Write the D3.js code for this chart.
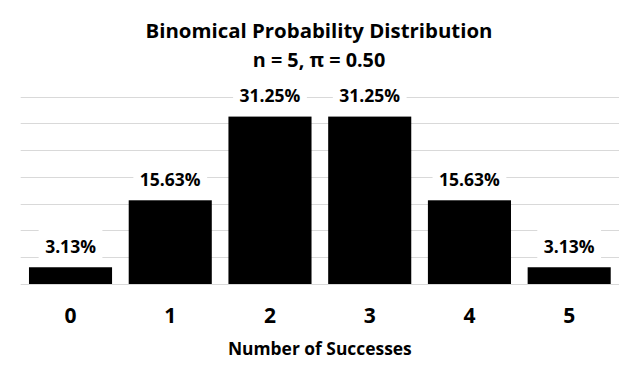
<!DOCTYPE html>
<html><head><meta charset="utf-8">
<script src="https://cdn.jsdelivr.net/npm/d3@7"></script>
<style>
html,body{margin:0;padding:0;background:#fff;}
svg{display:block;font-family:"Open Sans",Lato,sans-serif;font-weight:bold;}
</style></head>
<body>
<svg id="chart" width="639" height="383"></svg>
<script>
const categories = ["0","1","2","3","4","5"];
const probabilities = [0.03125, 0.15625, 0.3125, 0.3125, 0.15625, 0.03125];
const gridTicks = [0, 0.05, 0.10, 0.15, 0.20, 0.25, 0.30, 0.35];
const titleText = "Binomical Probability Distribution";
const subtitleText = "n = 5, \u03c0 = 0.50";
const xAxisTitle = "Number of Successes";

const svg = d3.select("#chart");
const W = 639, H = 383;
const plot = {left: 20.7, right: 619, top: 96.5, bottom: 284};

const x = d3.scaleBand().domain(categories).range([plot.left, plot.right])
  .paddingInner(0.167).paddingOuter(0.083);
const y = d3.scaleLinear().domain([0, 0.35]).range([plot.bottom, plot.top]);
const fmt = d3.format(".2%");

svg.append("rect").attr("width", W).attr("height", H).attr("fill", "#fff");

// gridlines
svg.append("g").selectAll("line").data(gridTicks.slice(1)).join("line")
  .attr("x1", plot.left).attr("x2", plot.right)
  .attr("y1", d => Math.round(y(d)) + 0.5).attr("y2", d => Math.round(y(d)) + 0.5)
  .attr("stroke", "#d9d9d9").attr("stroke-width", 1);

// bars
svg.append("g").selectAll("rect").data(probabilities).join("rect")
  .attr("x", (d, i) => x(categories[i]))
  .attr("width", x.bandwidth())
  .attr("y", d => y(d))
  .attr("height", d => y(0) - y(d))
  .attr("fill", "#000");

// baseline
svg.append("line").attr("x1", plot.left).attr("x2", plot.right)
  .attr("y1", y(0) + 0.5).attr("y2", y(0) + 0.5)
  .attr("stroke", "#d9d9d9").attr("stroke-width", 1);

// value labels with white boxes
const lbl = svg.append("g").selectAll("g").data(probabilities).join("g")
  .attr("transform", (d, i) => `translate(${x(categories[i]) + x.bandwidth()/2},${y(d) - 14.3})`);
lbl.append("text").attr("text-anchor", "middle").attr("font-size", 17.5)
  .attr("fill", "#000").text(d => fmt(d));
lbl.each(function() {
  const g = d3.select(this);
  const w = g.select("text").node().getComputedTextLength();
  g.insert("rect", "text").attr("x", -w/2 - 6.5).attr("width", w + 13)
    .attr("y", -24).attr("height", 30).attr("fill", "#fff");
});

// category axis labels
svg.append("g").selectAll("text").data(categories).join("text")
  .attr("x", d => x(d) + x.bandwidth()/2).attr("y", 323.3)
  .attr("text-anchor", "middle").attr("font-size", 21).attr("fill", "#000")
  .text(d => d);

// axis title
svg.append("text").attr("x", (plot.left + plot.right)/2).attr("y", 355)
  .attr("text-anchor", "middle").attr("font-size", 17.4).attr("fill", "#000")
  .text(xAxisTitle);

// titles
svg.append("text").attr("x", 319).attr("y", 38.3).attr("text-anchor", "middle")
  .attr("font-size", 20.4).attr("fill", "#000").text(titleText);
svg.append("text").attr("x", 319).attr("y", 66.7).attr("text-anchor", "middle")
  .attr("font-size", 19.8).attr("fill", "#000").text(subtitleText);
</script>
</body></html>
